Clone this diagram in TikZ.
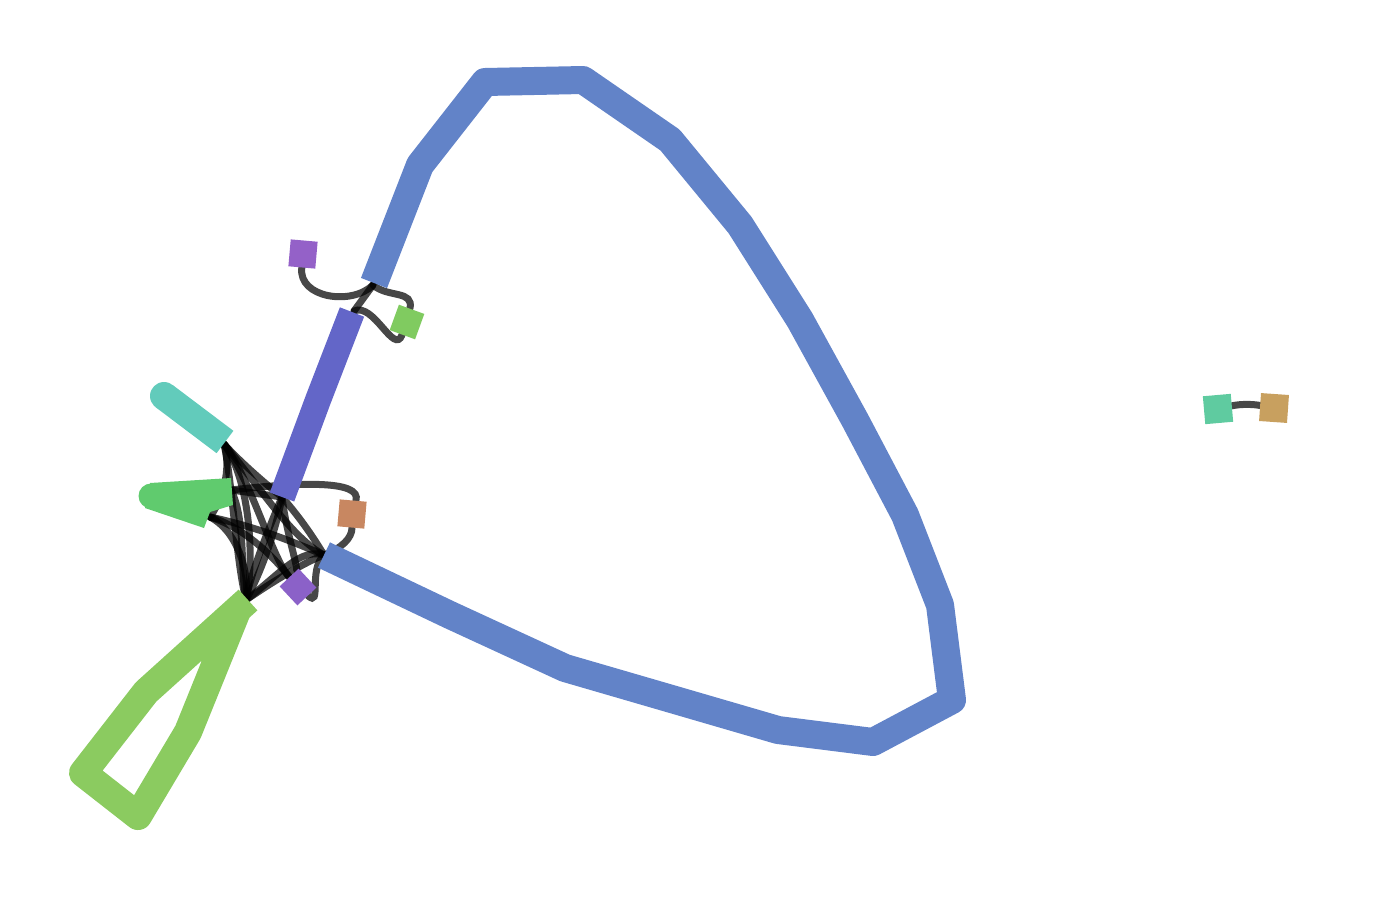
\documentclass[tikz,border=0pt]{standalone}
\definecolor{cBlue}{RGB}{98,131,200}
\definecolor{cDBlue}{RGB}{99,102,200}
\definecolor{cCyan}{RGB}{98,203,187}
\definecolor{cGreen}{RGB}{96,203,110}
\definecolor{cLGreen}{RGB}{139,203,96}
\definecolor{cPurA}{RGB}{148,97,200}
\definecolor{cPurB}{RGB}{139,97,200}
\definecolor{cGSq}{RGB}{128,203,96}
\definecolor{cBrown}{RGB}{200,135,97}
\definecolor{cTeal}{RGB}{95,203,160}
\definecolor{cTan}{RGB}{200,160,95}
\pgfdeclarelayer{edgelayer}
\pgfsetlayers{edgelayer,main}
\begin{document}
\begin{tikzpicture}[x=1pt,y=-1pt,
  seg/.style={line width=28pt, line cap=butt, line join=round},
  link/.style={draw=black, line width=7pt, opacity=0.72, line cap=round},
  sq/.style={inner sep=0pt, minimum width=27pt, minimum height=27pt, draw=none}]
\useasboundingbox (0,0) rectangle (1383,900);

% big blue loop
\draw[seg, cBlue] (324,555) -- (450,615) -- (565,668) -- (675,700) -- (778,730) -- (873,742) -- (952,700) -- (940,605) -- (905,515) -- (855,420) -- (800,320) -- (740,225) -- (670,140) -- (583,80) -- (485,82) -- (420,165) -- (374,283);
\coordinate (bls) at (324,555);
\coordinate (bEnd) at (373,285);

% dark blue segment
\draw[seg, line width=26pt, cDBlue] (352,312) -- (318,400) -- (282,497);
\coordinate (dbTop) at (354,311);
\coordinate (dbb) at (282,497);

% cyan
\fill[cCyan] (164,396) circle (14);
\draw[seg, cCyan] (164,396) -- (225,442);
\coordinate (cyE) at (224,444);

% green wedge
\fill[cGreen] (150,483) -- (231,478) -- (233,505) -- (210,512) -- (204,528) -- (145,508) -- cycle;
\fill[cGreen] (151,496) circle (12.5);
\coordinate (gr1) at (231,490);
\coordinate (gr2) at (210,517);

% light green loop
\draw[seg, cLGreen] (248,600) -- (146,692) -- (83,773) -- (138,816) -- (188,732) -- (239,606);
\coordinate (lg) at (246,600);

% small square nodes
\node[sq, fill=cPurA, rotate=-5] (pA) at (303,254) {};
\node[sq, fill=cGSq, rotate=-20] (gS) at (407,322) {};
\node[sq, fill=cBrown, rotate=-5] (br) at (352,514) {};
\node[sq, fill=cPurB, rotate=43, minimum width=26pt, minimum height=26pt] (pB) at (298,587) {};
\node[sq, fill=cTeal, rotate=5, minimum width=28pt, minimum height=28pt] (tl) at (1218,409) {};
\node[sq, fill=cTan, rotate=-4, minimum width=28pt, minimum height=28pt] (tn) at (1274,408) {};

\begin{pgfonlayer}{edgelayer}
% top junction
\draw[link] (bEnd) -- (dbTop);
\draw[link] (pA.south) .. controls (298,298) and (352,306) .. (bEnd);
\draw[link] (bEnd) .. controls (388,298) and (414,290) .. (gS);
\draw[link] (dbTop) .. controls (374,302) and (394,356) .. (gS);
% right pair
\draw[link] (tl) .. controls (1240,404) and (1252,404) .. (tn);
% bottom junction
\draw[link] (gr1) .. controls (300,482) and (362,480) .. (br);
\draw[link] (br) .. controls (352,538) and (342,548) .. (bls);
\draw[link] (cyE) .. controls (232,480) and (236,560) .. (lg);
\draw[link] (cyE) .. controls (250,480) and (255,560) .. (lg);
\draw[link] (cyE) .. controls (262,490) and (292,538) .. (bls);
\draw[link] (cyE) .. controls (252,482) and (272,558) .. (pB);
\draw[link] (cyE) .. controls (240,462) and (268,486) .. (dbb);
\draw[link] (cyE) .. controls (232,470) and (222,500) .. (gr2);
\draw[link] (gr2) .. controls (262,528) and (300,545) .. (bls);
\draw[link] (gr2) .. controls (236,530) and (250,570) .. (lg);
\draw[link] (gr2) .. controls (252,530) and (282,568) .. (pB);
\draw[link] (gr1) .. controls (246,520) and (240,570) .. (lg);
\draw[link] (gr1) -- (dbb);
\draw[link] (dbb) .. controls (276,530) and (262,570) .. (lg);
\draw[link] (dbb) .. controls (270,525) and (250,575) .. (lg);
\draw[link] (dbb) .. controls (302,520) and (315,540) .. (bls);
\draw[link] (dbb) .. controls (286,530) and (296,560) .. (pB);
\draw[link] (lg) .. controls (282,572) and (300,548) .. (bls);
\draw[link] (lg) .. controls (272,582) and (305,562) .. (bls);
\draw[link] (bls) .. controls (308,570) and (322,608) .. (pB);
\end{pgfonlayer}
\end{tikzpicture}
\end{document}
